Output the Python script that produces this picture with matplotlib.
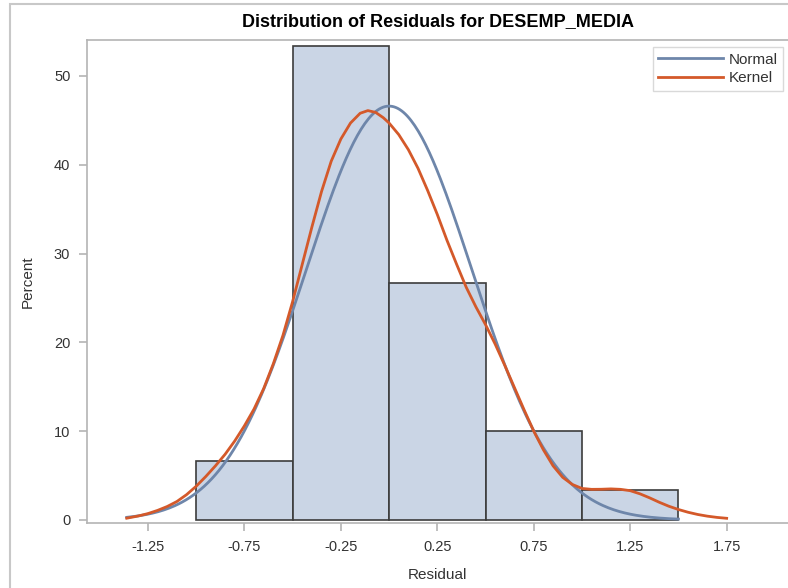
import numpy as np
import matplotlib.pyplot as plt
from matplotlib.patches import Rectangle

plt.rcParams['font.family'] = ['Liberation Sans', 'DejaVu Sans']

# histogram bins (residual) and percent per bin
bin_left = [-1.0, -0.5, 0.0, 0.5, 1.0]
bin_width = 0.5
percent = [6.67, 53.33, 26.67, 10.0, 3.33]

# fitted normal
mu = 0.0
sigma = 0.428
normal_range = (-1.36, 1.5)

# kernel density curve
kernel_x = [-1.36, -1.30, -1.25, -1.20, -1.15, -1.10, -1.05, -1.00, -0.95, -0.90,
            -0.85, -0.80, -0.75, -0.70, -0.65, -0.60, -0.55, -0.50, -0.45, -0.40,
            -0.35, -0.30, -0.25, -0.20, -0.15, -0.11, -0.07, -0.03, 0.00, 0.05,
            0.10, 0.15, 0.20, 0.25, 0.30, 0.35, 0.40, 0.45, 0.50, 0.55,
            0.60, 0.65, 0.70, 0.75, 0.80, 0.85, 0.90, 0.95, 1.00, 1.05,
            1.10, 1.15, 1.20, 1.25, 1.30, 1.35, 1.40, 1.45, 1.50, 1.55,
            1.60, 1.65, 1.70, 1.75]
kernel_y = [0.2, 0.45, 0.72, 1.08, 1.52, 2.08, 2.85, 3.8, 4.9, 6.1,
            7.4, 8.9, 10.6, 12.5, 14.8, 17.6, 20.8, 24.6, 28.8, 33.0,
            37.0, 40.4, 42.9, 44.7, 45.8, 46.1, 45.9, 45.3, 44.7, 43.4,
            41.7, 39.6, 37.1, 34.4, 31.5, 28.8, 26.2, 24.0, 22.0, 19.8,
            17.4, 14.9, 12.4, 10.0, 7.9, 6.1, 4.8, 4.0, 3.55, 3.45,
            3.46, 3.5, 3.45, 3.3, 2.95, 2.5, 2.0, 1.55, 1.18, 0.87,
            0.62, 0.43, 0.29, 0.19]

fig = plt.figure(figsize=(7.88, 5.88), dpi=100)
ax = fig.add_axes([87/788, 65/588, 1 - 87/788, 483/588])

ax.bar(bin_left, percent, width=bin_width, align='edge', color='#CAD5E5',
       edgecolor='#3c3c3c', linewidth=1.2, zorder=2)

xn = np.linspace(normal_range[0], normal_range[1], 300)
yn = 100 * bin_width * np.exp(-0.5 * ((xn - mu) / sigma) ** 2) / (sigma * np.sqrt(2 * np.pi))
ax.plot(xn, yn, color='#6E86AA', lw=2, label='Normal', zorder=3)
ax.plot(kernel_x, kernel_y, color='#D4592A', lw=2, label='Kernel', zorder=4,
        solid_joinstyle='round')

ax.set_xlim(-1.566, 2.068)
ax.set_ylim(-0.34, 54.05)
ax.set_xticks([-1.25, -0.75, -0.25, 0.25, 0.75, 1.25, 1.75])
ax.set_xticklabels(['-1.25', '-0.75', '-0.25', '0.25', '0.75', '1.25', '1.75'])
ax.set_yticks([0, 10, 20, 30, 40, 50])

for s in ['left', 'bottom', 'top']:
    ax.spines[s].set_color('#b4b4b4')
    ax.spines[s].set_linewidth(1.2)
ax.spines['right'].set_visible(False)
ax.tick_params(colors='#b4b4b4', labelcolor='#333333', labelsize=10.5, length=6, width=1.2, pad=6)

ax.set_xlabel('Residual', fontsize=11, color='#333333', labelpad=10)
ax.set_ylabel('Percent', fontsize=11, color='#333333', labelpad=14)
ax.set_title('Distribution of Residuals for DESEMP_MEDIA', fontsize=13, fontweight='bold', pad=10)

leg = ax.legend(loc='upper right', bbox_to_anchor=(0.993, 0.985), fontsize=11, frameon=True,
                fancybox=False, edgecolor='#d0d0d0', handlelength=4.2, handletextpad=0.4,
                borderpad=0.35, labelspacing=0.3, borderaxespad=0, labelcolor='#333333')
leg.get_frame().set_linewidth(1.0)

# outer frame of the graph
fig.patches.append(Rectangle((10/788, -0.1), 1.2, 1 - 4/588 + 0.1, transform=fig.transFigure,
                             fill=False, edgecolor='#c8c8c8', lw=1.5))

fig.savefig('out.png', dpi=100)
